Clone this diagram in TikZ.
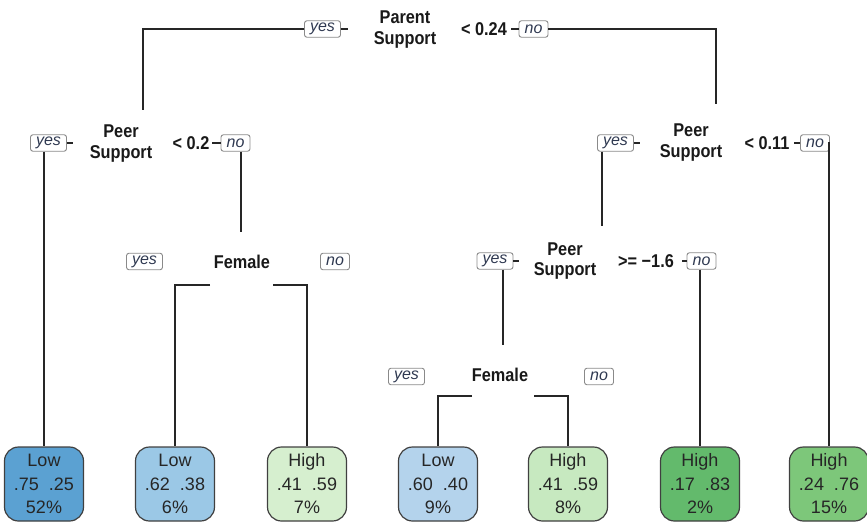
\documentclass[tikz,border=0pt]{standalone}
\usepackage{fontspec}
\setmainfont{Liberation Sans}
\newfontfamily\splitfont{Liberation Sans}[FakeStretch=0.88]
\definecolor{ink}{HTML}{2E3850}
\definecolor{ynframe}{HTML}{8A8A8A}
\definecolor{leafedge}{HTML}{404040}
\definecolor{lowA}{HTML}{5BA1D2}
\definecolor{lowB}{HTML}{9BC8E6}
\definecolor{lowC}{HTML}{B4D3EC}
\definecolor{highA}{HTML}{D6EFCF}
\definecolor{highB}{HTML}{C7E9C0}
\definecolor{highC}{HTML}{63BA6C}
\definecolor{highD}{HTML}{7DC77A}
\tikzset{
  lab/.style={font=\splitfont\bfseries\fontsize{18.5}{20}\selectfont, inner sep=0pt, text=black!90},
  ynbase/.style={draw=ynframe, rounded corners=2.5pt, line width=0.9pt,
    font=\itshape\fontsize{16}{16}\selectfont, text=ink,
    inner sep=0pt, minimum height=16.5pt},
  yesb/.style={ynbase, minimum width=36pt},
  nob/.style={ynbase, minimum width=29pt},
  leaf/.style={draw=leafedge, rounded corners=14pt, line width=1.2pt,
    minimum width=79pt, minimum height=74pt, align=center,
    font=\fontsize{18}{23.5}\selectfont, text=black!85},
  wire/.style={line width=1.1pt, black!85}
}
\newcommand{\pr}[2]{#1\hspace{10pt}#2}
\begin{document}
\begin{tikzpicture}[x=1pt,y=-1pt]
\useasboundingbox (0,0) rectangle (867,522);

% leaves
\node[leaf, fill=lowA]  (L1) at (44,484)  {Low\\\pr{.75}{.25}\\52\%};
\node[leaf, fill=lowB]  (L2) at (175,484) {Low\\\pr{.62}{.38}\\6\%};
\node[leaf, fill=highA] (L3) at (307,484) {High\\\pr{.41}{.59}\\7\%};
\node[leaf, fill=lowC]  (L4) at (438,484) {Low\\\pr{.60}{.40}\\9\%};
\node[leaf, fill=highB] (L5) at (568,484) {High\\\pr{.41}{.59}\\8\%};
\node[leaf, fill=highC] (L6) at (700,484) {High\\\pr{.17}{.83}\\2\%};
\node[leaf, fill=highD] (L7) at (829,484) {High\\\pr{.24}{.76}\\15\%};

% root split
\node[lab] (r1) at (405,17) {Parent};
\node[lab] (r2) at (405,40) {Support};
\node[lab] (rc) at (484,29) {< 0.24};
\node[yesb] (ry) at (322.5,29) {yes};
\node[nob]  (rn) at (533.5,29) {no};
\draw[wire] (ry.east) -- ++(7,0);
\draw[wire] (rn.west) -- ++(-8,0);
\coordinate (a1) at (143,110);
\coordinate (a2) at (716,104);
\draw[wire] (ry.west) -| (a1);
\draw[wire] (rn.east) -| (a2);

% left peer support split
\node[lab] (p1) at (121,131) {Peer};
\node[lab] (p2) at (121,154) {Support};
\node[lab] (pc) at (191,143) {< 0.2};
\node[yesb] (py) at (48.5,143) {yes};
\node[nob]  (pn) at (235.5,143) {no};
\draw[wire] (py.east) -- ++(6,0);
\draw[wire] (pn.west) -- ++(-9,0);
\draw[wire] (py.south -| L1.north) -- (L1.north);
\coordinate (a3) at (241,232);
\draw[wire] (pn.south -| a3) -- (a3);

% left female split
\node[lab] (f1) at (242,262) {Female};
\node[yesb] (fy) at (144.5,261.5) {yes};
\node[nob]  (fn) at (335,261.5) {no};
\coordinate (b1) at (210,285);
\coordinate (b2) at (273,285);
\draw[wire] (b1) -| (L2.north);
\draw[wire] (b2) -| (L3.north);

% right peer support split
\node[lab] (q1) at (691,130) {Peer};
\node[lab] (q2) at (691,153) {Support};
\node[lab] (qc) at (767,143) {< 0.11};
\node[yesb] (qy) at (615.5,143) {yes};
\node[nob]  (qn) at (815,143) {no};
\draw[wire] (qy.east) -- ++(6,0);
\draw[wire] (qn.west) -- ++(-6,0);
\coordinate (a4) at (602,226);
\draw[wire] (qy.south -| a4) -- (a4);
\draw[wire] (qn.east) -| (L7.north);

% lower peer support split
\node[lab] (s1) at (565,249) {Peer};
\node[lab] (s2) at (565,271) {Support};
\node[lab] (sc) at (646,261) {>= −1.6};
\node[yesb] (sy) at (495,261) {yes};
\node[nob]  (sn) at (701.5,261) {no};
\draw[wire] (sy.east) -- ++(6,0);
\draw[wire] (sn.west) -- ++(-5,0);
\coordinate (a5) at (503,345);
\draw[wire] (sy.south -| a5) -- (a5);
\draw[wire] (sn.south -| L6.north) -- (L6.north);

% right female split
\node[lab] (g1) at (500,375) {Female};
\node[yesb] (gy) at (406.5,376.5) {yes};
\node[nob]  (gn) at (599,376.5) {no};
\coordinate (b3) at (472,396);
\coordinate (b4) at (534,396);
\draw[wire] (b3) -| (L4.north);
\draw[wire] (b4) -| (L5.north);
\end{tikzpicture}
\end{document}
